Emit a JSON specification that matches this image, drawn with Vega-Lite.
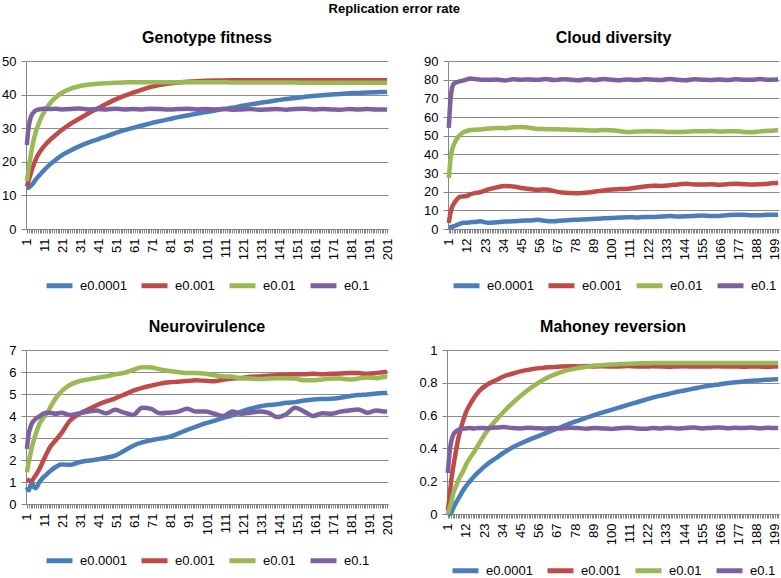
{
"$schema": "https://vega.github.io/schema/vega-lite/v6.json",
"padding": {"left": 1, "top": 3, "right": 0, "bottom": 0},
"background": "white",
"title": {"text": "Replication error rate", "fontSize": 13, "anchor": "middle", "offset": 14},
"config": {
  "font": "Liberation Sans",
  "view": {"stroke": null},
  "title": {"font": "Liberation Sans", "fontSize": 16, "fontWeight": "bold", "color": "#000000", "offset": 9},
  "axis": {"labelFont": "Liberation Sans", "labelFontSize": 13, "labelColor": "#000000", "domainColor": "#868686", "tickColor": "#868686", "gridColor": "#8c8c8c", "title": null},
  "axisY": {"grid": true, "tickSize": 5, "labelPadding": 5, "domainWidth": 1},
  "axisX": {"grid": false, "tickSize": 4, "labelAngle": 270, "labelPadding": 5, "labelOverlap": false, "labelFlush": false, "tickCount": 201},
  "legend": {"orient": "bottom", "direction": "horizontal", "title": null, "symbolType": "stroke", "symbolStrokeWidth": 5, "symbolSize": 676, "labelFont": "Liberation Sans", "labelFontSize": 13, "labelColor": "#000000", "labelOffset": 5, "columnPadding": 4, "offset": 10, "layout": {"bottom": {"anchor": "middle"}}}
},
"data": {"values": [
{"p":"G","x":1,"a":12.2,"b":12.7,"c":14.2,"d":25.0},
{"p":"G","x":2,"a":12.3,"b":14.5,"c":18.0,"d":30.5},
{"p":"G","x":3,"a":12.8,"b":16.3,"c":21.5,"d":33.0},
{"p":"G","x":4,"a":13.3,"b":18.0,"c":24.5,"d":34.2},
{"p":"G","x":5,"a":14.0,"b":19.5,"c":27.0,"d":34.9},
{"p":"G","x":6,"a":14.8,"b":20.8,"c":29.0,"d":35.3},
{"p":"G","x":8,"a":16.0,"b":22.8,"c":32.0,"d":35.6},
{"p":"G","x":10,"a":17.2,"b":24.3,"c":34.3,"d":35.8},
{"p":"G","x":12,"a":18.3,"b":25.5,"c":36.0,"d":35.8},
{"p":"G","x":14,"a":19.3,"b":26.6,"c":37.5,"d":35.7},
{"p":"G","x":17,"a":20.6,"b":28.0,"c":39.2,"d":35.8},
{"p":"G","x":20,"a":21.8,"b":29.3,"c":40.4,"d":35.6},
{"p":"G","x":25,"a":23.3,"b":31.2,"c":41.7,"d":35.7},
{"p":"G","x":30,"a":24.6,"b":32.8,"c":42.5,"d":35.9},
{"p":"G","x":35,"a":25.7,"b":34.4,"c":42.9,"d":35.6},
{"p":"G","x":40,"a":26.6,"b":35.8,"c":43.2,"d":35.7},
{"p":"G","x":45,"a":27.6,"b":37.2,"c":43.4,"d":35.6},
{"p":"G","x":50,"a":28.5,"b":38.5,"c":43.5,"d":35.8},
{"p":"G","x":55,"a":29.4,"b":39.6,"c":43.6,"d":35.6},
{"p":"G","x":60,"a":30.1,"b":40.6,"c":43.7,"d":35.7},
{"p":"G","x":65,"a":30.8,"b":41.5,"c":43.7,"d":35.6},
{"p":"G","x":70,"a":31.5,"b":42.3,"c":43.7,"d":35.8},
{"p":"G","x":75,"a":32.1,"b":42.9,"c":43.7,"d":35.7},
{"p":"G","x":80,"a":32.7,"b":43.3,"c":43.7,"d":35.6},
{"p":"G","x":85,"a":33.3,"b":43.6,"c":43.7,"d":35.7},
{"p":"G","x":90,"a":33.8,"b":43.8,"c":43.7,"d":35.8},
{"p":"G","x":95,"a":34.3,"b":44.0,"c":43.7,"d":35.6},
{"p":"G","x":100,"a":34.8,"b":44.1,"c":43.7,"d":35.7},
{"p":"G","x":105,"a":35.2,"b":44.2,"c":43.7,"d":35.6},
{"p":"G","x":110,"a":35.7,"b":44.2,"c":43.7,"d":35.7},
{"p":"G","x":115,"a":36.1,"b":44.3,"c":43.6,"d":35.5},
{"p":"G","x":120,"a":36.6,"b":44.3,"c":43.6,"d":35.6},
{"p":"G","x":125,"a":37.1,"b":44.3,"c":43.6,"d":35.7},
{"p":"G","x":130,"a":37.5,"b":44.3,"c":43.6,"d":35.5},
{"p":"G","x":135,"a":37.9,"b":44.3,"c":43.6,"d":35.6},
{"p":"G","x":140,"a":38.3,"b":44.3,"c":43.6,"d":35.7},
{"p":"G","x":145,"a":38.7,"b":44.3,"c":43.6,"d":35.5},
{"p":"G","x":150,"a":39.0,"b":44.3,"c":43.6,"d":35.7},
{"p":"G","x":155,"a":39.3,"b":44.3,"c":43.5,"d":35.8},
{"p":"G","x":160,"a":39.6,"b":44.3,"c":43.5,"d":35.6},
{"p":"G","x":165,"a":39.8,"b":44.3,"c":43.5,"d":35.7},
{"p":"G","x":170,"a":40.0,"b":44.3,"c":43.5,"d":35.6},
{"p":"G","x":175,"a":40.2,"b":44.3,"c":43.5,"d":35.5},
{"p":"G","x":180,"a":40.4,"b":44.3,"c":43.5,"d":35.7},
{"p":"G","x":185,"a":40.5,"b":44.3,"c":43.5,"d":35.6},
{"p":"G","x":190,"a":40.6,"b":44.3,"c":43.5,"d":35.7},
{"p":"G","x":195,"a":40.7,"b":44.3,"c":43.5,"d":35.6},
{"p":"G","x":200,"a":40.8,"b":44.3,"c":43.5,"d":35.6},
{"p":"G","x":201,"a":40.8,"b":44.3,"c":43.5,"d":35.6},
{"p":"C","x":1,"a":0.8,"b":3.2,"c":27.4,"d":54.2},
{"p":"C","x":2,"a":1.0,"b":8.6,"c":37.2,"d":69.4},
{"p":"C","x":3,"a":1.2,"b":11.8,"c":42.6,"d":75.7},
{"p":"C","x":4,"a":1.5,"b":13.5,"c":45.0,"d":77.8},
{"p":"C","x":5,"a":1.8,"b":14.8,"c":47.0,"d":78.3},
{"p":"C","x":6,"a":2.2,"b":16.0,"c":48.5,"d":78.7},
{"p":"C","x":8,"a":2.9,"b":17.3,"c":50.5,"d":79.2},
{"p":"C","x":10,"a":3.3,"b":17.5,"c":51.9,"d":79.6},
{"p":"C","x":12,"a":3.4,"b":17.7,"c":52.5,"d":80.2},
{"p":"C","x":14,"a":3.6,"b":18.6,"c":53.0,"d":80.6},
{"p":"C","x":17,"a":3.8,"b":19.3,"c":53.2,"d":80.3},
{"p":"C","x":20,"a":4.1,"b":19.7,"c":53.3,"d":80.0},
{"p":"C","x":25,"a":3.3,"b":21.2,"c":53.8,"d":79.9},
{"p":"C","x":30,"a":3.6,"b":22.3,"c":54.1,"d":80.1},
{"p":"C","x":35,"a":4.0,"b":23.0,"c":54.0,"d":79.6},
{"p":"C","x":40,"a":4.1,"b":22.8,"c":54.5,"d":80.2},
{"p":"C","x":45,"a":4.4,"b":22.0,"c":54.6,"d":80.0},
{"p":"C","x":50,"a":4.6,"b":21.4,"c":54.2,"d":80.1},
{"p":"C","x":55,"a":4.9,"b":21.0,"c":53.6,"d":79.9},
{"p":"C","x":60,"a":4.3,"b":21.2,"c":53.5,"d":80.3},
{"p":"C","x":65,"a":4.1,"b":20.3,"c":53.4,"d":79.8},
{"p":"C","x":70,"a":4.6,"b":19.5,"c":53.3,"d":80.2},
{"p":"C","x":75,"a":4.8,"b":19.3,"c":53.2,"d":80.0},
{"p":"C","x":80,"a":5.0,"b":19.2,"c":53.1,"d":79.7},
{"p":"C","x":85,"a":5.2,"b":19.5,"c":52.9,"d":80.2},
{"p":"C","x":90,"a":5.5,"b":20.1,"c":52.8,"d":79.8},
{"p":"C","x":95,"a":5.7,"b":20.6,"c":53.0,"d":80.3},
{"p":"C","x":100,"a":5.9,"b":21.2,"c":52.9,"d":80.0},
{"p":"C","x":105,"a":6.1,"b":21.4,"c":52.4,"d":79.7},
{"p":"C","x":110,"a":6.3,"b":21.6,"c":51.9,"d":80.1},
{"p":"C","x":115,"a":6.2,"b":22.2,"c":52.2,"d":79.8},
{"p":"C","x":120,"a":6.4,"b":22.8,"c":52.4,"d":80.2},
{"p":"C","x":125,"a":6.4,"b":23.2,"c":52.3,"d":80.0},
{"p":"C","x":130,"a":6.7,"b":23.1,"c":52.2,"d":79.8},
{"p":"C","x":135,"a":6.9,"b":23.4,"c":51.9,"d":80.3},
{"p":"C","x":140,"a":6.7,"b":23.9,"c":52.0,"d":80.0},
{"p":"C","x":145,"a":6.8,"b":24.2,"c":52.1,"d":79.7},
{"p":"C","x":150,"a":7.0,"b":23.9,"c":52.4,"d":80.2},
{"p":"C","x":155,"a":7.2,"b":23.8,"c":52.3,"d":80.0},
{"p":"C","x":160,"a":6.9,"b":24.0,"c":52.5,"d":79.8},
{"p":"C","x":165,"a":7.0,"b":23.7,"c":52.2,"d":80.1},
{"p":"C","x":170,"a":7.4,"b":24.0,"c":52.3,"d":79.8},
{"p":"C","x":175,"a":7.7,"b":24.2,"c":52.4,"d":80.2},
{"p":"C","x":180,"a":7.6,"b":24.0,"c":52.0,"d":80.0},
{"p":"C","x":185,"a":7.3,"b":23.8,"c":51.8,"d":79.9},
{"p":"C","x":190,"a":7.4,"b":24.0,"c":52.3,"d":80.3},
{"p":"C","x":195,"a":7.6,"b":24.3,"c":52.6,"d":80.0},
{"p":"C","x":200,"a":7.7,"b":24.7,"c":52.9,"d":80.1},
{"p":"C","x":201,"a":7.7,"b":24.7,"c":53.0,"d":80.2},
{"p":"N","x":1,"a":0.76,"b":1.12,"c":1.45,"d":2.5},
{"p":"N","x":2,"a":0.62,"b":1.08,"c":1.9,"d":3.2},
{"p":"N","x":3,"a":0.85,"b":1.05,"c":2.3,"d":3.5},
{"p":"N","x":4,"a":0.95,"b":1.08,"c":2.65,"d":3.7},
{"p":"N","x":5,"a":0.75,"b":1.2,"c":2.95,"d":3.8},
{"p":"N","x":6,"a":0.72,"b":1.32,"c":3.2,"d":3.88},
{"p":"N","x":8,"a":1.0,"b":1.6,"c":3.65,"d":3.98},
{"p":"N","x":10,"a":1.2,"b":1.95,"c":3.9,"d":4.1},
{"p":"N","x":12,"a":1.35,"b":2.3,"c":4.1,"d":4.15},
{"p":"N","x":14,"a":1.5,"b":2.6,"c":4.4,"d":4.15},
{"p":"N","x":17,"a":1.68,"b":2.9,"c":4.8,"d":4.1},
{"p":"N","x":20,"a":1.8,"b":3.2,"c":5.1,"d":4.15},
{"p":"N","x":25,"a":1.78,"b":3.8,"c":5.42,"d":4.05},
{"p":"N","x":30,"a":1.9,"b":4.1,"c":5.58,"d":4.12},
{"p":"N","x":35,"a":1.97,"b":4.3,"c":5.66,"d":4.2},
{"p":"N","x":40,"a":2.02,"b":4.5,"c":5.74,"d":4.25},
{"p":"N","x":45,"a":2.1,"b":4.66,"c":5.8,"d":4.12},
{"p":"N","x":50,"a":2.2,"b":4.8,"c":5.9,"d":4.28},
{"p":"N","x":55,"a":2.42,"b":4.97,"c":5.96,"d":4.15},
{"p":"N","x":60,"a":2.65,"b":5.15,"c":6.1,"d":4.05},
{"p":"N","x":65,"a":2.8,"b":5.28,"c":6.22,"d":4.38},
{"p":"N","x":70,"a":2.9,"b":5.38,"c":6.2,"d":4.32},
{"p":"N","x":75,"a":2.97,"b":5.47,"c":6.12,"d":4.12},
{"p":"N","x":80,"a":3.05,"b":5.53,"c":6.05,"d":4.15},
{"p":"N","x":85,"a":3.2,"b":5.56,"c":6.0,"d":4.2},
{"p":"N","x":90,"a":3.37,"b":5.59,"c":5.95,"d":4.33},
{"p":"N","x":95,"a":3.52,"b":5.62,"c":5.95,"d":4.2},
{"p":"N","x":100,"a":3.66,"b":5.6,"c":5.92,"d":4.2},
{"p":"N","x":105,"a":3.78,"b":5.58,"c":5.85,"d":4.1},
{"p":"N","x":110,"a":3.92,"b":5.65,"c":5.8,"d":4.0},
{"p":"N","x":115,"a":4.03,"b":5.7,"c":5.78,"d":4.2},
{"p":"N","x":120,"a":4.2,"b":5.73,"c":5.72,"d":4.1},
{"p":"N","x":125,"a":4.33,"b":5.78,"c":5.7,"d":4.15},
{"p":"N","x":130,"a":4.43,"b":5.8,"c":5.68,"d":4.2},
{"p":"N","x":135,"a":4.5,"b":5.83,"c":5.7,"d":4.15},
{"p":"N","x":140,"a":4.53,"b":5.85,"c":5.72,"d":3.95},
{"p":"N","x":145,"a":4.6,"b":5.88,"c":5.72,"d":4.08},
{"p":"N","x":150,"a":4.63,"b":5.9,"c":5.7,"d":4.38},
{"p":"N","x":155,"a":4.7,"b":5.9,"c":5.62,"d":4.2},
{"p":"N","x":160,"a":4.75,"b":5.92,"c":5.62,"d":4.0},
{"p":"N","x":165,"a":4.77,"b":5.9,"c":5.66,"d":4.12},
{"p":"N","x":170,"a":4.78,"b":5.92,"c":5.7,"d":4.1},
{"p":"N","x":175,"a":4.83,"b":5.93,"c":5.7,"d":4.2},
{"p":"N","x":180,"a":4.9,"b":5.96,"c":5.66,"d":4.25},
{"p":"N","x":185,"a":4.95,"b":5.95,"c":5.7,"d":4.3},
{"p":"N","x":190,"a":4.98,"b":5.92,"c":5.75,"d":4.15},
{"p":"N","x":195,"a":5.02,"b":5.95,"c":5.72,"d":4.25},
{"p":"N","x":200,"a":5.05,"b":6.0,"c":5.78,"d":4.2},
{"p":"N","x":201,"a":5.05,"b":6.0,"c":5.76,"d":4.2},
{"p":"M","x":1,"a":0.0,"b":0.02,"c":0.0,"d":0.25},
{"p":"M","x":2,"a":0.0,"b":0.1,"c":0.035,"d":0.37},
{"p":"M","x":3,"a":0.005,"b":0.2,"c":0.07,"d":0.44},
{"p":"M","x":4,"a":0.03,"b":0.27,"c":0.115,"d":0.475},
{"p":"M","x":5,"a":0.05,"b":0.33,"c":0.145,"d":0.495},
{"p":"M","x":6,"a":0.07,"b":0.39,"c":0.17,"d":0.505},
{"p":"M","x":8,"a":0.105,"b":0.49,"c":0.22,"d":0.515},
{"p":"M","x":10,"a":0.14,"b":0.56,"c":0.255,"d":0.52},
{"p":"M","x":12,"a":0.17,"b":0.62,"c":0.3,"d":0.522},
{"p":"M","x":14,"a":0.195,"b":0.66,"c":0.335,"d":0.524},
{"p":"M","x":17,"a":0.23,"b":0.71,"c":0.38,"d":0.522},
{"p":"M","x":20,"a":0.26,"b":0.75,"c":0.43,"d":0.525},
{"p":"M","x":25,"a":0.305,"b":0.79,"c":0.51,"d":0.523},
{"p":"M","x":30,"a":0.34,"b":0.815,"c":0.57,"d":0.527},
{"p":"M","x":35,"a":0.375,"b":0.84,"c":0.625,"d":0.53},
{"p":"M","x":40,"a":0.405,"b":0.855,"c":0.675,"d":0.524},
{"p":"M","x":45,"a":0.43,"b":0.87,"c":0.72,"d":0.522},
{"p":"M","x":50,"a":0.452,"b":0.88,"c":0.76,"d":0.526},
{"p":"M","x":55,"a":0.472,"b":0.888,"c":0.795,"d":0.523},
{"p":"M","x":60,"a":0.492,"b":0.893,"c":0.825,"d":0.521},
{"p":"M","x":65,"a":0.512,"b":0.897,"c":0.848,"d":0.525},
{"p":"M","x":70,"a":0.532,"b":0.9,"c":0.866,"d":0.522},
{"p":"M","x":75,"a":0.552,"b":0.901,"c":0.88,"d":0.526},
{"p":"M","x":80,"a":0.57,"b":0.9,"c":0.89,"d":0.524},
{"p":"M","x":85,"a":0.588,"b":0.902,"c":0.898,"d":0.52},
{"p":"M","x":90,"a":0.605,"b":0.9,"c":0.905,"d":0.525},
{"p":"M","x":95,"a":0.62,"b":0.901,"c":0.908,"d":0.522},
{"p":"M","x":100,"a":0.635,"b":0.899,"c":0.911,"d":0.519},
{"p":"M","x":105,"a":0.65,"b":0.9,"c":0.914,"d":0.523},
{"p":"M","x":110,"a":0.665,"b":0.902,"c":0.916,"d":0.526},
{"p":"M","x":115,"a":0.68,"b":0.9,"c":0.918,"d":0.522},
{"p":"M","x":120,"a":0.695,"b":0.899,"c":0.919,"d":0.52},
{"p":"M","x":125,"a":0.71,"b":0.901,"c":0.92,"d":0.524},
{"p":"M","x":130,"a":0.722,"b":0.9,"c":0.92,"d":0.522},
{"p":"M","x":135,"a":0.733,"b":0.898,"c":0.92,"d":0.526},
{"p":"M","x":140,"a":0.745,"b":0.9,"c":0.92,"d":0.521},
{"p":"M","x":145,"a":0.755,"b":0.901,"c":0.92,"d":0.524},
{"p":"M","x":150,"a":0.765,"b":0.899,"c":0.92,"d":0.527},
{"p":"M","x":155,"a":0.775,"b":0.9,"c":0.92,"d":0.522},
{"p":"M","x":160,"a":0.783,"b":0.9,"c":0.92,"d":0.525},
{"p":"M","x":165,"a":0.79,"b":0.901,"c":0.92,"d":0.528},
{"p":"M","x":170,"a":0.797,"b":0.899,"c":0.92,"d":0.523},
{"p":"M","x":175,"a":0.803,"b":0.9,"c":0.92,"d":0.526},
{"p":"M","x":180,"a":0.808,"b":0.898,"c":0.92,"d":0.524},
{"p":"M","x":185,"a":0.812,"b":0.9,"c":0.92,"d":0.527},
{"p":"M","x":190,"a":0.816,"b":0.899,"c":0.92,"d":0.523},
{"p":"M","x":195,"a":0.819,"b":0.898,"c":0.92,"d":0.526},
{"p":"M","x":200,"a":0.822,"b":0.9,"c":0.92,"d":0.524},
{"p":"M","x":201,"a":0.822,"b":0.9,"c":0.92,"d":0.524}
]},
"spacing": 23,
"resolve": {"legend": {"color": "independent"}},
"vconcat": [
 {"spacing": 26, "resolve": {"legend": {"color": "independent"}}, "hconcat": [
  {"width": 362, "height": 168, "title": "Genotype fitness",
   "transform": [{"filter": "datum.p=='G'"}, {"fold": ["a","b","c","d"], "as": ["s","v"]}],
   "mark": {"type": "line", "strokeWidth": 4.5, "interpolate": "monotone"},
   "encoding": {
     "x": {"field": "x", "type": "quantitative", "scale": {"domain": [0.5, 201.5], "nice": false, "zero": false}, "axis": {"labelExpr": "(datum.value-1)%10==0 ? datum.label : ''"}},
     "y": {"field": "v", "type": "quantitative", "scale": {"domain": [0, 50], "nice": false}, "axis": {"values": [0,10,20,30,40,50]}},
     "color": {"field": "s", "type": "nominal", "scale": {"domain": ["a","b","c","d"], "range": ["#4A7EBB","#BE4B48","#98B954","#7D60A0"]}, "legend": {"labelExpr": "datum.label=='a'?'e0.0001':datum.label=='b'?'e0.001':datum.label=='c'?'e0.01':'e0.1'"}}
   }},
  {"width": 331, "height": 168, "title": "Cloud diversity",
   "transform": [{"filter": "datum.p=='C'"}, {"fold": ["a","b","c","d"], "as": ["s","v"]}],
   "mark": {"type": "line", "strokeWidth": 4.5, "interpolate": "monotone"},
   "encoding": {
     "x": {"field": "x", "type": "quantitative", "scale": {"domain": [0.5, 201.5], "nice": false, "zero": false}, "axis": {"labelExpr": "(datum.value-1)%11==0 ? datum.label : ''"}},
     "y": {"field": "v", "type": "quantitative", "scale": {"domain": [0, 90], "nice": false}, "axis": {"values": [0,10,20,30,40,50,60,70,80,90]}},
     "color": {"field": "s", "type": "nominal", "scale": {"domain": ["a","b","c","d"], "range": ["#4A7EBB","#BE4B48","#98B954","#7D60A0"]}, "legend": {"labelExpr": "datum.label=='a'?'e0.0001':datum.label=='b'?'e0.001':datum.label=='c'?'e0.01':'e0.1'"}}
   }}
 ]},
 {"spacing": 21, "resolve": {"legend": {"color": "independent"}}, "hconcat": [
  {"width": 362, "height": 154, "title": "Neurovirulence",
   "transform": [{"filter": "datum.p=='N'"}, {"fold": ["a","b","c","d"], "as": ["s","v"]}],
   "mark": {"type": "line", "strokeWidth": 4.5, "interpolate": "monotone"},
   "encoding": {
     "x": {"field": "x", "type": "quantitative", "scale": {"domain": [0.5, 201.5], "nice": false, "zero": false}, "axis": {"labelExpr": "(datum.value-1)%10==0 ? datum.label : ''"}},
     "y": {"field": "v", "type": "quantitative", "scale": {"domain": [0, 7], "nice": false}, "axis": {"values": [0,1,2,3,4,5,6,7]}},
     "color": {"field": "s", "type": "nominal", "scale": {"domain": ["a","b","c","d"], "range": ["#4A7EBB","#BE4B48","#98B954","#7D60A0"]}, "legend": {"labelExpr": "datum.label=='a'?'e0.0001':datum.label=='b'?'e0.001':datum.label=='c'?'e0.01':'e0.1'"}}
   }},
  {"width": 332, "height": 164, "title": "Mahoney reversion",
   "transform": [{"filter": "datum.p=='M'"}, {"fold": ["a","b","c","d"], "as": ["s","v"]}],
   "mark": {"type": "line", "strokeWidth": 4.5, "interpolate": "monotone"},
   "encoding": {
     "x": {"field": "x", "type": "quantitative", "scale": {"domain": [0.5, 201.5], "nice": false, "zero": false}, "axis": {"labelExpr": "(datum.value-1)%11==0 ? datum.label : ''"}},
     "y": {"field": "v", "type": "quantitative", "scale": {"domain": [0, 1], "nice": false}, "axis": {"values": [0,0.2,0.4,0.6,0.8,1], "format": "~g"}},
     "color": {"field": "s", "type": "nominal", "scale": {"domain": ["a","b","c","d"], "range": ["#4A7EBB","#BE4B48","#98B954","#7D60A0"]}, "legend": {"labelExpr": "datum.label=='a'?'e0.0001':datum.label=='b'?'e0.001':datum.label=='c'?'e0.01':'e0.1'"}}
   }}
 ]}
]
}
